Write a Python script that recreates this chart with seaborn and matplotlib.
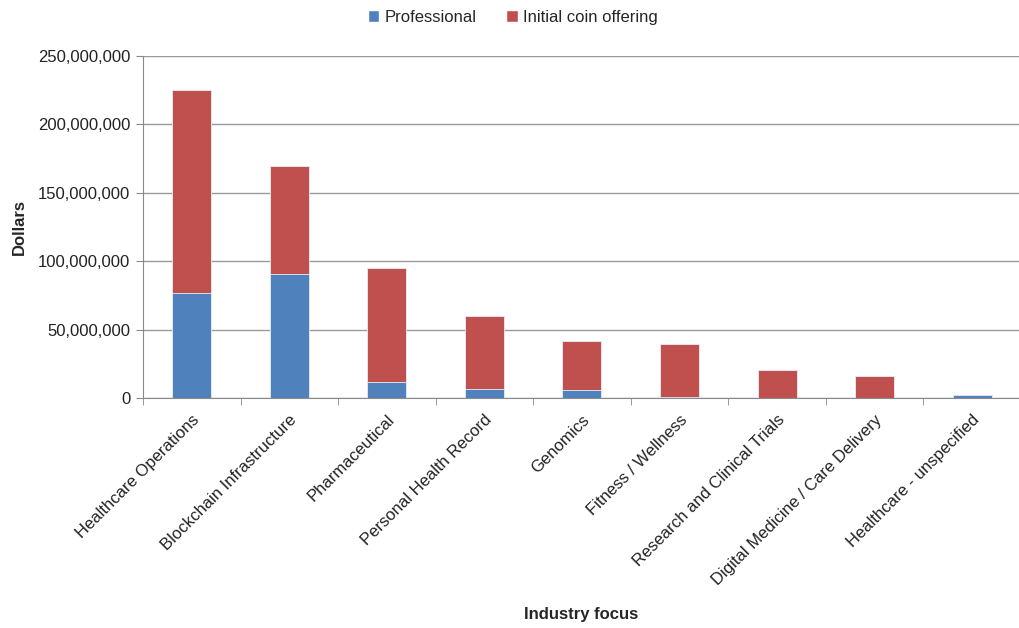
import matplotlib
matplotlib.use("Agg")
import matplotlib.pyplot as plt
import seaborn as sns
import pandas as pd
import numpy as np
from matplotlib.ticker import FuncFormatter, FixedLocator
from matplotlib.patches import Patch

categories = ["Healthcare Operations", "Blockchain Infrastructure", "Pharmaceutical",
              "Personal Health Record", "Genomics", "Fitness / Wellness",
              "Research and Clinical Trials", "Digital Medicine / Care Delivery",
              "Healthcare - unspecified"]
professional = [77e6, 90.5e6, 12e6, 7e6, 6e6, 1e6, 0, 0, 2e6]
ico = [148e6, 79e6, 83e6, 53e6, 36e6, 38.5e6, 20.5e6, 16e6, 0]

blue = "#4F81BD"
red = "#C0504D"

sns.set_style("white")
plt.rcParams['font.family'] = ['Liberation Sans', 'DejaVu Sans']

df = pd.DataFrame({"cat": categories, "prof": professional, "ico": ico})
df["total"] = df["prof"] + df["ico"]

fig = plt.figure(figsize=(10.19, 6.28), dpi=100)
ax = fig.add_axes([0.1403, 0.366, 0.8616, 0.545])

sns.barplot(data=df, x="cat", y="total", color=red, saturation=1, width=0.4,
            ax=ax, edgecolor="#e8eef5", linewidth=0.6)
sns.barplot(data=df, x="cat", y="prof", color=blue, saturation=1, width=0.4,
            ax=ax, edgecolor="#e8eef5", linewidth=0.6)

ax.set_ylim(0, 250e6)
ax.set_xlim(-0.5, len(categories) - 0.5)
ax.set_yticks(np.arange(0, 250e6 + 1, 50e6))
ax.yaxis.set_major_formatter(FuncFormatter(lambda v, p: f"{int(v):,}"))
ax.yaxis.grid(True, color="#9a9a9a", linewidth=1)
ax.set_axisbelow(True)

for s in ["top", "right"]:
    ax.spines[s].set_visible(False)
ax.spines["left"].set_color("#8a8a8a")
ax.spines["bottom"].set_color("#8a8a8a")

ax.tick_params(axis="y", which="major", left=True, length=5, color="#8a8a8a",
               labelsize=12, labelcolor="#222222", pad=4)
ax.set_xticks(range(len(categories)))
ax.set_xticklabels(categories, rotation=45, ha="right", rotation_mode="anchor",
                   fontsize=12, color="#222222")
ax.tick_params(axis="x", which="major", length=0, pad=10)
ax.xaxis.set_minor_locator(FixedLocator(np.arange(-0.5, len(categories), 1.0)))
ax.tick_params(axis="x", which="minor", bottom=True, length=5, color="#8a8a8a")

ax.set_ylabel("Dollars", fontsize=12, fontweight="bold", labelpad=8)
ax.set_xlabel("Industry focus", fontsize=12, fontweight="bold")
ax.xaxis.set_label_coords(0.499, -0.61)

handles = [Patch(facecolor=blue, label="Professional"),
           Patch(facecolor=red, label="Initial coin offering")]
fig.legend(handles=handles, loc="upper center", bbox_to_anchor=(0.503, 1.008), ncol=2,
           frameon=False, fontsize=12, handlelength=0.7, handleheight=0.7,
           handletextpad=0.3, columnspacing=1.8)

fig.savefig("out.png", dpi=100)
